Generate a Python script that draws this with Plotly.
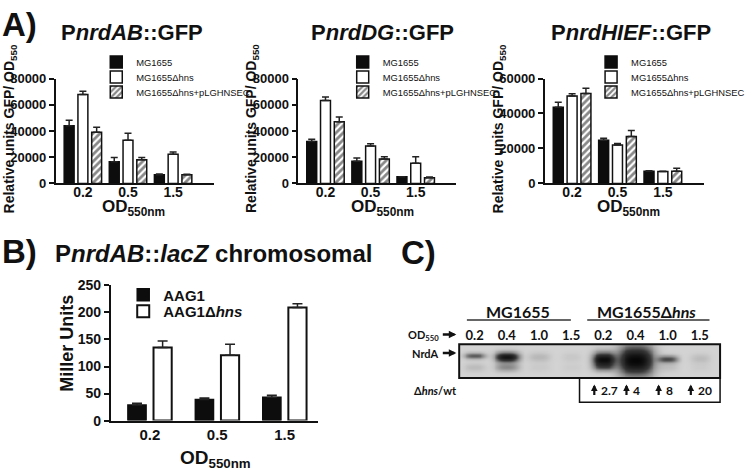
import numpy as np
import plotly.graph_objects as go

W, H = 750, 475
def px(x): return x / W
def py(y): return 1 - y / H

# ---------------- data ----------------
od_gfp = ['0.2', '0.5', '1.5']
strain_names = ['MG1655', 'MG1655Δhns', 'MG1655Δhns+pLGHNSEC']

nrdAB_wt = [44000, 16500, 6600]
nrdAB_wt_err = [4200, 3200, 500]
nrdAB_hns = [67800, 32900, 22300]
nrdAB_hns_err = [2500, 5400, 1700]
nrdAB_comp = [39100, 18000, 6600]
nrdAB_comp_err = [3700, 1700, 300]

nrdDG_wt = [32000, 16800, 5000]
nrdDG_wt_err = [1700, 2500, 0]
nrdDG_hns = [63200, 28500, 15400]
nrdDG_hns_err = [2700, 1700, 4900]
nrdDG_comp = [47000, 18600, 4300]
nrdDG_comp_err = [3700, 1700, 500]

nrdHIEF_wt = [43600, 24700, 7000]
nrdHIEF_wt_err = [2800, 1100, 200]
nrdHIEF_hns = [50000, 21900, 6800]
nrdHIEF_hns_err = [1300, 900, 200]
nrdHIEF_comp = [51400, 26900, 6900]
nrdHIEF_comp_err = [3000, 3400, 1800]

od_lacz = ['0.2', '0.5', '1.5']
aag1 = [29, 39, 43]
aag1_err = [3, 3, 4]
aag1_hns = [135, 121, 209]
aag1_hns_err = [12, 20, 7]

lane_labels = ['0.2', '0.4', '1.0', '1.5', '0.2', '0.4', '1.0', '1.5']
band_level = [0.48, 0.90, 0.12, 0.05, 0.95, 1.00, 0.55, 0.10]
smear_level = [0.10, 0.30, 0.04, 0.03, 0.25, 0.00, 0.08, 0.03]
ratio_values = ['2.7', '4', '8', '20']

# -------------- styles ----------------
band_halfwidth = [0.33, 0.37, 0.33, 0.30, 0.35, 0.56, 0.31, 0.30]
band_sigma_y = [0.09, 0.15, 0.14, 0.14, 0.22, 0.45, 0.11, 0.14]
band_center_y = [0.66, 0.62, 0.62, 0.62, 0.55, 0.52, 0.56, 0.58]

ARIAL = 'Liberation Sans, Arial'
CAL = 'Lato, DejaVu Sans'

fig = go.Figure()

styles = [
    dict(color='#0d0d0d', line=dict(color='#0d0d0d', width=1.5)),
    dict(color='white', line=dict(color='#111111', width=1.5)),
    dict(color='white', line=dict(color='#111111', width=1.5),
         pattern=dict(shape='/', fgcolor='#111111', bgcolor='white', size=5, solidity=0.55)),
]
offsets_a = [-0.415, -0.11, 0.195]

def add_gfp(xa, ya, series, errs, legends):
    for k in range(3):
        fig.add_trace(go.Bar(
            x=od_gfp, y=series[k], name=strain_names[k], xaxis=xa, yaxis=ya,
            width=0.22, offset=offsets_a[k], marker=styles[k], legend=legends[k],
            showlegend=True,
            error_y=dict(type='data', array=errs[k], arrayminus=[0, 0, 0], symmetric=False,
                         color='#222222', thickness=1.5, width=3.5)))

add_gfp('x', 'y', [nrdAB_wt, nrdAB_hns, nrdAB_comp],
        [nrdAB_wt_err, nrdAB_hns_err, nrdAB_comp_err], ['legend', 'legend2', 'legend3'])
add_gfp('x2', 'y2', [nrdDG_wt, nrdDG_hns, nrdDG_comp],
        [nrdDG_wt_err, nrdDG_hns_err, nrdDG_comp_err], ['legend4', 'legend5', 'legend6'])
add_gfp('x3', 'y3', [nrdHIEF_wt, nrdHIEF_hns, nrdHIEF_comp],
        [nrdHIEF_wt_err, nrdHIEF_hns_err, nrdHIEF_comp_err], ['legend7', 'legend8', 'legend9'])

fig.add_trace(go.Bar(x=od_lacz, y=aag1, name='AAG1', xaxis='x4', yaxis='y4',
                     width=0.27, offset=-0.325, marker=styles[0], legend='legend10', showlegend=True,
                     error_y=dict(type='data', array=aag1_err, arrayminus=[0, 0, 0], symmetric=False,
                                  color='#222222', thickness=1.5, width=5)))
fig.add_trace(go.Bar(x=od_lacz, y=aag1_hns, name='AAG1Δ<i>hns</i>', xaxis='x4', yaxis='y4',
                     width=0.27, offset=0.055, marker=dict(color='white', line=dict(color='#111111', width=2)),
                     legend='legend11', showlegend=True,
                     error_y=dict(type='data', array=aag1_hns_err, arrayminus=[0, 0, 0], symmetric=False,
                                  color='#222222', thickness=1.5, width=5)))

# Western blot rendered as heatmap from band intensities
gx = np.linspace(-0.48, 7.63, 280)
gy = np.linspace(0, 1, 60)
X, Y = np.meshgrid(gx, gy)
Z = np.zeros_like(X)
for i in range(8):
    dx = np.abs(X - i) / band_halfwidth[i]
    Z += band_level[i] * np.exp(-dx ** 3 - ((Y - band_center_y[i]) / band_sigma_y[i]) ** 2)
    Z += smear_level[i] * np.exp(-dx ** 3 - ((Y - 0.32) / 0.12) ** 2)
Z = np.clip(Z, 0, 1)
fig.add_trace(go.Heatmap(x=gx, y=gy, z=Z, xaxis='x5', yaxis='y5', zmin=0, zmax=1,
                         zsmooth='best', showscale=False, hoverinfo='skip', showlegend=False,
                         colorscale=[[0, '#d3d3d3'], [0.3, '#8e8e8e'], [0.6, '#383838'], [1, '#070707']]))

# -------------- axes ------------------
def yax(top, bottom, rng, dtick, anchor, fs):
    return dict(domain=[py(bottom), py(top)], range=rng, dtick=dtick, anchor=anchor,
                showline=True, linecolor='#111111', linewidth=1.8, ticks='outside', ticklen=5,
                tickwidth=1.8, tickcolor='#111111', showgrid=False, zeroline=False,
                tickformat='d', tickfont=dict(family=ARIAL, size=fs, color='#111111', weight='bold'))

def xax(left, right, rng, anchor, fs, standoff):
    return dict(domain=[px(left), px(right)], range=rng, anchor=anchor, type='category',
                showline=True, linecolor='#111111', linewidth=1.8, ticks='', showgrid=False,
                zeroline=False, ticklabelstandoff=standoff,
                tickfont=dict(family=ARIAL, size=fs, color='#111111', weight='bold'))

A_TOP, A_BOT = 73, 181.5
layout = dict(
    width=W, height=H, margin=dict(l=0, r=0, t=0, b=0), showlegend=True,
    paper_bgcolor='white', plot_bgcolor='white', barmode='overlay',
    xaxis=xax(58, 222, [-0.6, 2.9], 'y', 14, -5),
    yaxis=yax(A_TOP, A_BOT, [0, 80000], 20000, 'x', 13),
    xaxis2=xax(310, 474, [-0.6, 2.9], 'y2', 14, -5),
    yaxis2=yax(A_TOP, A_BOT, [0, 80000], 20000, 'x2', 13),
    xaxis3=xax(566, 731, [-0.6, 2.9], 'y3', 14, -5),
    yaxis3=yax(A_TOP, A_BOT, [0, 60000], 20000, 'x3', 13),
    xaxis4=xax(115, 330, [-0.58, 2.49], 'y4', 15, -1),
    yaxis4=yax(287, 427, [0, 250], 50, 'x4', 14),
    xaxis5=dict(domain=[px(477), px(748)], range=[-0.48, 7.63], anchor='y5', side='top',
                tickmode='array', tickvals=list(range(8)), ticktext=lane_labels, ticks='',
                showline=False, showgrid=False, zeroline=False, ticklabelstandoff=1,
                tickfont=dict(family=CAL, size=13, color='#111111', weight='bold')),
    yaxis5=dict(domain=[py(383), py(348)], range=[0, 1], anchor='x5', visible=False),
)

def leg(x, y, fs, bold=False):
    f = dict(family=ARIAL, size=fs, color='#111111')
    if bold:
        f['weight'] = 'bold'
    return dict(x=px(x), y=py(y), xanchor='left', yanchor='middle', bgcolor='rgba(0,0,0,0)',
                font=f, itemclick=False, itemdoubleclick=False, visible=True)

rows_a = [56, 71.5, 87]
leg_names = ['legend', 'legend2', 'legend3', 'legend4', 'legend5', 'legend6',
             'legend7', 'legend8', 'legend9']
for p, lx in enumerate([100, 356, 614]):
    for r in range(3):
        layout[leg_names[3 * p + r]] = leg(lx, rows_a[r], 9.4)
layout['legend10'] = leg(128, 297, 15, bold=True)
layout['legend11'] = leg(128, 314, 15, bold=True)
fig.update_layout(**layout)

ann = []
def text(x, y, s, size, family=ARIAL, xanchor='center', angle=0, bold=True):
    f = dict(family=family, size=size, color='#111111')
    if bold:
        f['weight'] = 'bold'
    ann.append(dict(x=px(x), y=py(y), xref='paper', yref='paper', text=s, showarrow=False,
                    xanchor=xanchor, yanchor='middle', textangle=angle, font=f))

def arrow(x, y, xref, ax, ay, xshift=0, width=2.2, head=2, size=0.9):
    ann.append(dict(x=x, y=py(y), xref=xref, yref='paper', text='', showarrow=True,
                    ax=ax, ay=ay, axref='pixel', ayref='pixel', xshift=xshift,
                    arrowhead=head, arrowsize=size, arrowwidth=width, arrowcolor='#111111',
                    standoff=0, startstandoff=0))

text(0, 17, 'A)', 33, xanchor='left')
text(0, 252, 'B)', 33, xanchor='left')
text(414, 253, 'C)', 33, xanchor='left')

text(137, 25, 'P<i>nrdAB</i>::GFP', 22)
text(397, 25, 'P<i>nrdDG</i>::GFP', 22)
text(655, 25, 'P<i>nrdHIEF</i>::GFP', 22)
for xc in (10, 262, 518):
    text(xc, 125, 'Relative units GFP/ OD<sub>550</sub>', 14, angle=-90)
for xc in (139, 397, 653):
    text(xc, 207, 'OD<sub>550nm</sub>', 17)

text(222, 254, 'P<i>nrdAB</i>::<i>lacZ</i> chromosomal', 24)
text(70, 347, 'Miller Units', 18, angle=-90)
text(224, 467, 'OD<sub>550nm</sub>', 19)

text(538, 314, 'MG1655', 16, family=CAL)
text(672, 314, 'MG1655Δ<i>hns</i>', 16, family=CAL)
text(458, 339, 'OD<sub>550</sub>', 11, family=CAL, xanchor='right')
arrow(px(474), 338, 'paper', -15, 0, width=2.5, size=0.6)
text(458, 358, 'NrdA', 11, family=CAL, xanchor='right')
arrow(px(474), 357, 'paper', -15, 0, width=2.5, size=0.6)
text(428, 396, 'Δ<i>hns</i>/wt', 11, family=CAL, xanchor='left')
for k, r in enumerate(ratio_values):
    ann.append(dict(x=4 + k, y=py(395.5), xref='x5', yref='paper', text=r, showarrow=False,
                    xanchor='left', yanchor='middle', xshift=-4,
                    font=dict(family=CAL, size=12, color='#111111', weight='bold')))
    arrow(4 + k, 389.5, 'x5', 0, 12, xshift=-9, width=2.2, head=2, size=0.6)

fig.update_layout(annotations=ann)

shapes = [
    dict(type='line', xref='paper', yref='paper', x0=px(485), x1=px(593), y0=py(323), y1=py(323),
         line=dict(color='#333333', width=1.5)),
    dict(type='line', xref='paper', yref='paper', x0=px(610), x1=px(737), y0=py(323), y1=py(323),
         line=dict(color='#333333', width=1.5)),
    dict(type='rect', xref='paper', yref='paper', x0=px(477), x1=px(748), y0=py(383), y1=py(348),
         line=dict(color='#111111', width=2)),
    dict(type='rect', xref='paper', yref='paper', x0=px(602), x1=px(748), y0=py(408), y1=py(383),
         line=dict(color='#111111', width=1.5)),
]
fig.update_layout(shapes=shapes)

fig.write_html('out.html', config={'displayModeBar': False},
               post_script="document.body.style.margin='0px';document.body.style.overflow='hidden';")
